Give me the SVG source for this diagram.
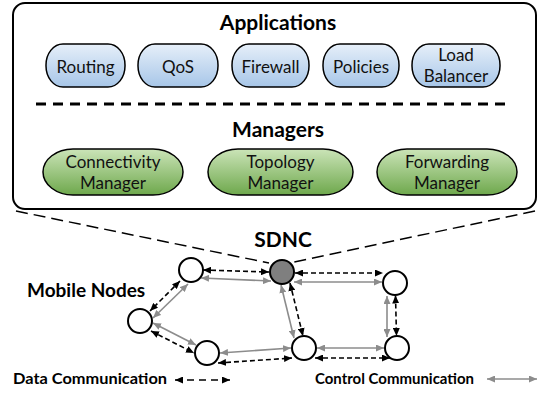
<svg xmlns="http://www.w3.org/2000/svg" width="544" height="396" viewBox="0 0 544 396">
  <style>
    .title { font-family: Lato, "Liberation Sans", sans-serif; font-weight: bold; font-size: 21px; fill: #000; text-anchor: middle; }
    .label { font-family: Lato, "Liberation Sans", sans-serif; font-size: 17px; fill: #111; text-anchor: middle; }
    .legend { font-family: Lato, "Liberation Sans", sans-serif; font-weight: bold; font-size: 16px; fill: #000; }
    .app { fill: url(#gBlue); stroke: #000; stroke-width: 1.5; }
    .mgr { fill: url(#gGreen); stroke: #000; stroke-width: 1.5; }
    .node { fill: #fff; stroke: #000; stroke-width: 2; }
    .ctrl { stroke: #8c8c8c; stroke-width: 1.6; fill: none; marker-start: url(#aGrey); marker-end: url(#aGrey); }
    .data { stroke: #000; stroke-width: 1.6; fill: none; stroke-dasharray: 5 3; marker-start: url(#aBlack); marker-end: url(#aBlack); }
    .zoom { stroke: #000; stroke-width: 1.5; fill: none; stroke-dasharray: 12 6; }
  </style>
  <defs>
    <linearGradient id="gBlue" x1="0" y1="0" x2="0" y2="1">
      <stop offset="0" stop-color="#e6eff9"/>
      <stop offset="1" stop-color="#a7c6e8"/>
    </linearGradient>
    <linearGradient id="gGreen" x1="0" y1="0" x2="0" y2="1">
      <stop offset="0" stop-color="#cbe4b8"/>
      <stop offset="1" stop-color="#6ea84c"/>
    </linearGradient>
    <marker id="aBlack" viewBox="0 0 8 7" refX="8" refY="3.5" markerWidth="8" markerHeight="7" markerUnits="userSpaceOnUse" orient="auto-start-reverse">
      <path d="M0,0 L8,3.5 L0,7 z" fill="#000"/>
    </marker>
    <marker id="aGrey" viewBox="0 0 8 7" refX="8" refY="3.5" markerWidth="8" markerHeight="7" markerUnits="userSpaceOnUse" orient="auto-start-reverse">
      <path d="M0,0 L8,3.5 L0,7 z" fill="#8c8c8c"/>
    </marker>
  </defs>

  <!-- controller detail box -->
  <g id="controller-box">
    <rect x="13" y="3" width="523" height="206" rx="12" ry="12" fill="#fff" stroke="#000" stroke-width="2"/>
    <text class="title" x="278" y="30">Applications</text>
    <line x1="36" y1="104" x2="510" y2="104" stroke="#000" stroke-width="3" stroke-dasharray="10 7"/>
    <text class="title" x="278" y="137">Managers</text>
  </g>

  <!-- applications -->
  <g id="app-routing">
    <rect class="app" x="46" y="44" width="79" height="43" rx="17" ry="21"/>
    <text class="label" x="85.5" y="73">Routing</text>
  </g>
  <g id="app-qos">
    <rect class="app" x="138" y="44" width="80" height="43" rx="17" ry="21"/>
    <text class="label" x="178" y="73">QoS</text>
  </g>
  <g id="app-firewall">
    <rect class="app" x="232" y="44" width="77" height="43" rx="17" ry="21"/>
    <text class="label" x="270.5" y="73">Firewall</text>
  </g>
  <g id="app-policies">
    <rect class="app" x="323" y="44" width="76" height="43" rx="17" ry="21"/>
    <text class="label" x="361" y="73">Policies</text>
  </g>
  <g id="app-load-balancer">
    <rect class="app" x="412" y="44" width="88" height="43" rx="17" ry="21"/>
    <text class="label" x="456" y="61">Load</text>
    <text class="label" x="456" y="82">Balancer</text>
  </g>

  <!-- managers -->
  <g id="mgr-connectivity">
    <rect class="mgr" x="43" y="149" width="140" height="46" rx="30" ry="23"/>
    <text class="label" x="113" y="168">Connectivity</text>
    <text class="label" x="113" y="189">Manager</text>
  </g>
  <g id="mgr-topology">
    <rect class="mgr" x="208" y="149" width="145" height="46" rx="30" ry="23"/>
    <text class="label" x="280.5" y="168">Topology</text>
    <text class="label" x="280.5" y="189">Manager</text>
  </g>
  <g id="mgr-forwarding">
    <rect class="mgr" x="377" y="149" width="140" height="46" rx="30" ry="23"/>
    <text class="label" x="447" y="168">Forwarding</text>
    <text class="label" x="447" y="189">Manager</text>
  </g>

  <!-- callout lines from the box down to the controller -->
  <g id="callout">
    <line class="zoom" x1="16" y1="211" x2="269" y2="263"/>
    <line class="zoom" x1="535" y1="211" x2="294" y2="262"/>
  </g>

  <!-- links between nodes -->
  <g id="connectors">
    <!-- A - SDNC -->
    <line class="data" x1="203" y1="270" x2="269" y2="272"/>
    <line class="ctrl" x1="201" y1="278" x2="271" y2="281"/>
    <!-- SDNC - E -->
    <line class="data" x1="295" y1="273" x2="383" y2="273"/>
    <line class="ctrl" x1="294" y1="282" x2="382" y2="282"/>
    <!-- A - B -->
    <line class="data" x1="180" y1="281" x2="150" y2="311"/>
    <line class="ctrl" x1="188" y1="284" x2="153" y2="318"/>
    <!-- B - C -->
    <line class="ctrl" x1="153" y1="323" x2="196" y2="345"/>
    <line class="data" x1="151" y1="331" x2="194" y2="353"/>
    <!-- C - D -->
    <line class="ctrl" x1="220" y1="353" x2="291" y2="348"/>
    <line class="data" x1="218" y1="363" x2="292" y2="358"/>
    <!-- D - F -->
    <line class="ctrl" x1="317" y1="348" x2="384" y2="348"/>
    <line class="data" x1="315" y1="358" x2="390" y2="358"/>
    <!-- E - F -->
    <line class="ctrl" x1="387" y1="296" x2="387" y2="337"/>
    <line class="data" x1="395.5" y1="295.5" x2="396.5" y2="336"/>
    <!-- SDNC - D -->
    <line class="ctrl" x1="281" y1="285" x2="294" y2="338"/>
    <line class="data" x1="290" y1="283" x2="303" y2="336"/>
  </g>

  <!-- network nodes -->
  <g id="sdnc">
    <circle cx="282" cy="272" r="12" fill="#7f7f7f" stroke="#000" stroke-width="2"/>
    <text class="title" x="283" y="247" font-size="23">SDNC</text>
  </g>
  <g id="node-a"><circle class="node" cx="191" cy="270" r="12"/></g>
  <g id="node-b"><circle class="node" cx="140" cy="321" r="12"/></g>
  <g id="node-c"><circle class="node" cx="207" cy="353" r="12"/></g>
  <g id="node-d"><circle class="node" cx="304" cy="348" r="12"/></g>
  <g id="node-e"><circle class="node" cx="395" cy="283" r="12"/></g>
  <g id="node-f"><circle class="node" cx="397" cy="348" r="12"/></g>
  <g id="mobile-label">
    <text class="title" x="27" y="297" style="text-anchor:start; font-size:19px">Mobile Nodes</text>
  </g>

  <!-- legend -->
  <g id="legend">
    <text class="legend" x="13" y="384" textLength="154" lengthAdjust="spacingAndGlyphs">Data Communication</text>
    <line class="data" x1="175" y1="380" x2="230" y2="380" style="stroke-dasharray:7 5"/>
    <text class="legend" x="315" y="384" textLength="159" lengthAdjust="spacingAndGlyphs">Control Communication</text>
    <line class="ctrl" x1="487" y1="379" x2="537" y2="379"/>
  </g>
</svg>
